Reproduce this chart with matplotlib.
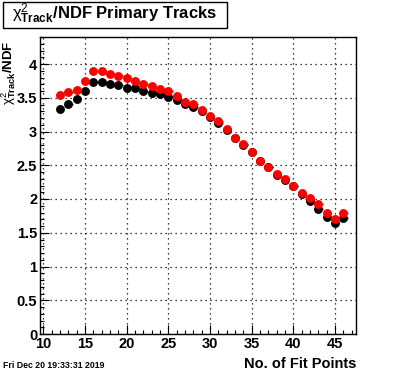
import matplotlib
matplotlib.use('Agg')
import matplotlib.pyplot as plt
from matplotlib.patches import Rectangle
from matplotlib.ticker import MultipleLocator

plt.rcParams['font.family'] = ['Liberation Sans', 'DejaVu Sans']
plt.rcParams['mathtext.fontset'] = 'custom'
plt.rcParams['mathtext.rm'] = 'Liberation Sans'
plt.rcParams['mathtext.bf'] = 'Liberation Sans:bold'
plt.rcParams['mathtext.it'] = 'Liberation Sans:italic'

# 拟合点数
fit_points = list(range(12, 47))

# 黑色序列
chi2_black = [3.34, 3.41, 3.48, 3.60, 3.74, 3.74, 3.71, 3.69, 3.64, 3.64,
              3.60, 3.57, 3.56, 3.51, 3.46, 3.41, 3.37, 3.30, 3.22, 3.13,
              3.02, 2.90, 2.80, 2.69, 2.57, 2.47, 2.36, 2.28, 2.19, 2.07,
              1.97, 1.85, 1.74, 1.64, 1.72]

# 红色序列
chi2_red = [3.54, 3.58, 3.61, 3.75, 3.89, 3.89, 3.85, 3.82, 3.79, 3.75,
            3.71, 3.67, 3.63, 3.60, 3.53, 3.44, 3.41, 3.32, 3.23, 3.15,
            3.03, 2.91, 2.81, 2.69, 2.57, 2.48, 2.37, 2.29, 2.20, 2.09,
            2.02, 1.92, 1.80, 1.71, 1.79]

W, H = 396, 372
fig = plt.figure(figsize=(W / 100, H / 100), dpi=100)
ax = fig.add_axes([40 / W, 1 - 334 / H, 316 / W, 297 / H])

for vals, col in [(chi2_black, 'black'), (chi2_red, 'red')]:
    ax.errorbar(fit_points, vals, xerr=0.5, fmt='o', color=col, ecolor='black',
                elinewidth=1.0, capsize=0, markersize=6.4, markeredgewidth=0,
                zorder=3 if col == 'black' else 4)

ax.set_xlim(9.6, 47.5)
ax.set_ylim(0, 4.4)
ax.xaxis.set_major_locator(MultipleLocator(5))
ax.xaxis.set_minor_locator(MultipleLocator(1))
ax.yaxis.set_major_locator(MultipleLocator(0.5))
ax.yaxis.set_minor_locator(MultipleLocator(0.1))
ax.yaxis.set_major_formatter(plt.FuncFormatter(lambda v, p: f'{v:g}'))

ax.grid(True, which='major', linestyle=(0, (1, 3)), color='black', linewidth=0.9)
ax.tick_params(which='both', direction='in', top=False, right=False,
               labelsize=10.5, width=0.8, pad=2)
ax.tick_params(which='major', length=6.5)
ax.tick_params(which='minor', length=3.2)
for lab in ax.get_xticklabels() + ax.get_yticklabels():
    lab.set_fontweight('bold')
for sp in ax.spines.values():
    sp.set_linewidth(1.0)

# 标题框
fig.patches.append(Rectangle((3 / W, 1 - 28 / H), 224 / W, 26 / H,
                             transform=fig.transFigure, facecolor='white',
                             edgecolor='black', linewidth=1.0))
fig.text(12 / W, 1 - 14 / H,
         r'χ$^{2}_{\mathbf{Track}}\mathbf{/NDF\ Primary\ Tracks}$',
         fontsize=12, ha='left', va='center')

fig.text(9 / W, 1 - 40 / H, r'χ$^{2}_{\mathbf{Track}}\mathbf{/NDF}$',
         rotation=90, fontsize=9.5, ha='center', va='top')
fig.text(356 / W, 1 - 364 / H, 'No. of Fit Points', fontsize=10.5,
         fontweight='bold', ha='right', va='center')
fig.text(3 / W, 1 - 365 / H, 'Fri Dec 20 19:33:31 2019', fontsize=6.3,
         fontweight='bold', ha='left', va='center')

fig.savefig('out.png', dpi=100, facecolor='white')
